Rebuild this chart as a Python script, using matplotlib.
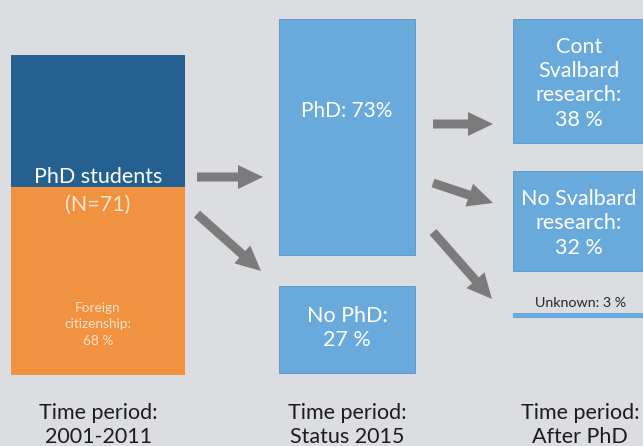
import matplotlib
matplotlib.use("Agg")
import matplotlib.pyplot as plt
from matplotlib.patches import FancyArrow

# ---- data -------------------------------------------------------------
# PhD students 2001-2011 (N=71): bar split as drawn in the figure (%)
cohort_segments = ["PhD students", "Foreign citizenship"]
cohort_drawn = [41, 58]
n_students = 71
foreign_share = 68

# Status 2015
status_labels = ["PhD", "No PhD"]
status_values = [73, 27]

# After PhD (share of all students)
after_labels = ["Cont\nSvalbard\nresearch", "No Svalbard\nresearch", "Unknown"]
after_values = [38, 32, 3]
after_drawn = [38.5, 31, 1.3]  # heights as drawn (unknown is a thin line)

period_labels = ["Time period:\n2001-2011", "Time period:\nStatus 2015",
                 "Time period:\nAfter PhD"]

# ---- style ------------------------------------------------------------
BG = "#dcdde0"
DARK = "#246190"
ORANGE = "#f19240"
LIGHT = "#69aadc"
ARROW = "#7b7b7b"
plt.rcParams["font.family"] = ["Lato", "DejaVu Sans"]

PX = 3.23  # pixels per percent

fig = plt.figure(figsize=(6.43, 4.46), dpi=100, facecolor=BG)
ax = fig.add_axes([0, 0, 1, 1])
ax.set_facecolor(BG)
ax.set_xlim(0, 643)
ax.set_ylim(446, 0)
ax.axis("off")

# column geometry (left, width, top)
col1 = (11, 174, 55)
col2 = (279, 136, 19)
col3 = (513, 130, 19)

# column 1: stacked bar
left, width, top = col1
heights = [v * PX for v in cohort_drawn]
bottoms = [top, top + heights[0]]
ax.bar(left + width / 2, heights, width=width, bottom=bottoms,
       color=[DARK, ORANGE], edgecolor="none")
ax.text(left + width / 2, bottoms[1] - 10, "PhD students", color="white",
        fontsize=15.5, ha="center", va="center")
ax.text(left + width / 2, bottoms[1] + 17, f"(N={n_students})", color="#fde6d2",
        fontsize=15.5, ha="center", va="center")
ax.text(left + width / 2, bottoms[1] + 137,
        f"Foreign\ncitizenship:\n{foreign_share} %", color="#fbe0c8",
        fontsize=9.8, ha="center", va="center", linespacing=1.45)

# column 2
left, width, top = col2
gap2 = 31
y = top
status_tops = []
for lab, v in zip(status_labels, status_values):
    h = v * PX
    ax.bar(left + width / 2, h, width=width, bottom=y, color=LIGHT,
           edgecolor="#5f93bd", linewidth=0.6)
    status_tops.append((y, h))
    y += h + gap2
ax.text(left + width / 2, status_tops[0][0] + 92, f"{status_labels[0]}: {status_values[0]}%",
        color="white", fontsize=15, ha="center", va="center")
ax.text(left + width / 2, status_tops[1][0] + status_tops[1][1] / 2 - 1,
        f"{status_labels[1]}:\n{status_values[1]} %", color="white",
        fontsize=15.5, ha="center", va="center", linespacing=1.25)

# column 3
left, width, top = col3
gaps3 = [28, 42]
y = top
after_boxes = []
for i, (lab, v, d) in enumerate(zip(after_labels, after_values, after_drawn)):
    h = d * PX
    ax.bar(left + width / 2, h, width=width, bottom=y, color=LIGHT,
           edgecolor="#5f93bd" if i < 2 else "none", linewidth=0.6)
    after_boxes.append((y, h))
    if i < len(gaps3):
        y += h + gaps3[i]
cx3 = left + 66
for i in range(2):
    y0, h = after_boxes[i]
    ax.text(cx3, y0 + h / 2 + 2, f"{after_labels[i]}:\n{after_values[i]} %",
            color="white", fontsize=15.5, ha="center", va="center",
            linespacing=1.27)
y0, h = after_boxes[2]
ax.text(cx3 + 2, y0 - 10, f"{after_labels[2]}: {after_values[2]} %",
        color="#262626", fontsize=10.3, ha="center", va="center")

# period labels
for (l, w, t), txt in zip([col1, col2, col3], period_labels):
    ax.text(l + w / 2 + (2 if l > 500 else 0), 425, txt,
            color="#1c1c1c", fontsize=15.5, ha="center", va="center",
            linespacing=1.2)

# arrows
arrows = [
    ((197, 177), (263, 177)),
    ((197, 214), (261, 271)),
    ((433, 124), (493, 124)),
    ((433, 183), (493, 203)),
    ((433, 232), (492, 299)),
]
for (x0, y0), (x1, y1) in arrows:
    ax.add_patch(FancyArrow(x0, y0, x1 - x0, y1 - y0, width=9, head_width=24,
                            head_length=25, length_includes_head=True,
                            color=ARROW, linewidth=0))

fig.savefig("out.png", dpi=100, facecolor=BG)
